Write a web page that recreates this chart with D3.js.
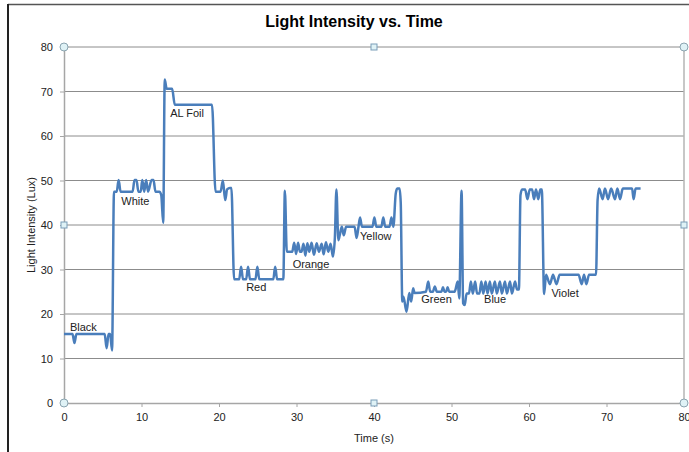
<!DOCTYPE html>
<html>
<head>
<meta charset="utf-8">
<script src="https://cdn.jsdelivr.net/npm/d3@7"></script>
<style>
  body { margin: 0; background: #fff; }
  text { font-family: "Liberation Sans", Arial, sans-serif; }
</style>
</head>
<body>
<div id="chart"></div>
<script>
// Sensor readings (time in s, light in lux)
const timeS = [
  0, 1.1, 1.35, 1.6, 5.25, 5.5, 5.75, 5.95, 6.2, 6.45,
  6.8, 7.05, 7.3, 8.85, 9.1, 9.35, 9.6, 9.9, 10.1, 10.35, 10.6, 10.85, 11.3, 11.55, 11.8, 12.3, 12.55, 12.8,
  13.0, 13.25, 13.95, 14.3, 19.1, 19.55, 20.2, 20.5, 20.8, 21.05, 21.4, 21.6, 21.95,
  22.6, 22.85, 23.1, 23.5, 23.75, 24.0, 24.7, 24.95, 25.2, 27.0, 27.25, 27.5, 28.3, 28.5, 28.75,
  29.45, 29.7, 29.95, 30.2, 30.45, 30.65, 30.9, 31.15, 31.4, 31.65, 31.95, 32.25, 32.6, 32.9, 33.25, 33.5,
  33.8, 34.1, 34.4, 34.7, 34.95, 35.15, 35.4,
  35.6, 35.85, 36.1, 36.4, 37.5, 37.75, 38.0, 38.2, 38.45, 39.8, 40.05, 40.3, 40.95, 41.2, 41.45, 42.0,
  42.25, 42.5, 42.8, 43.0, 43.3, 43.45, 43.65,
  43.8, 44.2, 44.55, 44.8, 45.05, 45.25, 46.7, 47.0, 47.25, 47.6, 47.85, 48.1, 48.7, 48.9, 49.1, 49.3,
  49.5, 49.7, 50.4, 50.8, 51.0, 51.3, 51.5, 51.7,
  51.95, 52.25, 52.5, 52.75, 53.05, 53.3, 53.6, 53.85, 54.1, 54.4, 54.65, 54.95, 55.2, 55.6, 55.85, 56.25,
  56.5, 56.9, 57.15, 57.55, 57.8, 58.2, 58.45, 58.7, 58.9, 59.1,
  59.5, 59.8, 60.1, 60.4, 60.65, 60.9, 61.2, 61.45, 61.65, 61.95,
  62.2, 62.7, 63.1, 63.55, 63.95, 66.4, 66.8, 67.1, 67.4, 67.75, 68.65, 68.85, 69.05, 69.5, 69.8, 70.2,
  70.6, 71.1, 71.4, 71.75, 72.1, 73.3, 73.5, 73.75, 74.4
];
const lux = [
  15.5, 15.5, 13.5, 15.5, 15.5, 12.3, 15.5, 15.5, 11.8, 47.5,
  47.5, 50.1, 47.5, 47.5, 50.1, 50.1, 47.5, 47.5, 50.1, 47.5, 50.1, 47.5, 50.1, 50.1, 47.5, 47.5, 46.7, 40.5,
  72.7, 70.6, 70.6, 67.0, 67.0, 47.5, 47.5, 50.0, 45.6, 48.0, 48.3, 48.3, 27.8,
  27.8, 30.6, 27.8, 27.8, 30.6, 27.8, 27.8, 30.6, 27.8, 27.8, 30.6, 27.8, 27.8, 47.7, 34.0,
  34.0, 36.0, 33.5, 36.0, 34.0, 34.0, 35.8, 33.1, 35.9, 34.0, 36.0, 33.3, 35.9, 34.0, 35.8, 33.4,
  36.1, 34.0, 35.8, 32.9, 37.1, 48.0, 36.6,
  37.9, 39.6, 37.7, 39.6, 39.6, 37.1, 39.6, 41.7, 39.6, 39.6, 41.7, 39.6, 39.6, 41.7, 39.6, 39.6,
  41.7, 39.6, 47.0, 48.2, 48.2, 45.0, 22.8,
  23.9, 20.5, 24.7, 22.8, 25.8, 24.7, 25.0, 27.3, 25.0, 25.0, 26.2, 25.0, 25.0, 26.0, 25.0, 25.0,
  26.0, 25.0, 25.0, 27.3, 23.5, 47.7, 22.4, 22.0,
  24.6, 24.6, 27.3, 24.6, 27.3, 24.6, 24.6, 27.3, 24.6, 27.3, 24.6, 27.3, 24.6, 27.3, 24.6, 27.3,
  24.6, 27.3, 24.6, 27.3, 24.6, 27.3, 25.5, 25.5, 46.7, 48.0,
  48.0, 45.8, 48.0, 48.0, 45.8, 48.0, 45.8, 48.0, 48.0, 24.5,
  28.8, 26.7, 28.8, 26.7, 28.8, 28.8, 26.7, 28.8, 26.7, 28.8, 28.8, 45.6, 48.2, 45.8, 48.2, 45.8,
  48.2, 45.8, 48.2, 45.8, 48.2, 48.2, 45.8, 48.2, 48.2
];

// Filter labels, anchored in data units (left edge, baseline)
const labelNames = ['Black', 'White', 'AL Foil', 'Red', 'Orange', 'Yellow', 'Green', 'Blue', 'Violet'];
const labelTimes = [0.77, 7.4, 13.7, 23.5, 29.5, 38.2, 46.1, 54.2, 62.9];
const labelLux = [16.2, 44.5, 64.3, 25.2, 30.4, 36.6, 22.4, 22.4, 23.8];

const xTicks = [0, 10, 20, 30, 40, 50, 60, 70, 80];
const yTicks = [0, 10, 20, 30, 40, 50, 60, 70, 80];

const width = 689;
const height = 452;

const svg = d3.select('#chart')
  .append('svg')
  .attr('width', width)
  .attr('height', height);

// Chart area frame (only top and left edges visible in the crop)
svg.append('line').attr('x1', 8).attr('x2', width).attr('y1', 4.5).attr('y2', 4.5)
  .attr('stroke', '#555').attr('stroke-width', 1.5);
svg.append('line').attr('x1', 8).attr('x2', 8).attr('y1', 4).attr('y2', height)
  .attr('stroke', '#222').attr('stroke-width', 2);

const x = d3.scaleLinear().domain([0, 80]).range([64, 684]);
const y = d3.scaleLinear().domain([0, 80]).range([403, 47]);

// Title
svg.append('text')
  .attr('x', 354)
  .attr('y', 27)
  .attr('text-anchor', 'middle')
  .attr('font-size', 16)
  .attr('font-weight', 'bold')
  .attr('fill', '#000')
  .text('Light Intensity vs. Time');

// Gridlines
svg.append('g')
  .selectAll('line')
  .data(yTicks.slice(1))
  .enter()
  .append('line')
  .attr('x1', x(0))
  .attr('x2', x(80))
  .attr('y1', d => y(d))
  .attr('y2', d => y(d))
  .attr('stroke', '#8c8c8c')
  .attr('stroke-width', 1);

// Right border of plot
svg.append('line')
  .attr('x1', x(80)).attr('x2', x(80))
  .attr('y1', y(0)).attr('y2', y(80))
  .attr('stroke', '#b5b5b5').attr('stroke-width', 1.5);

// Axes
const xAxis = svg.append('g')
  .attr('transform', `translate(0,${y(0)})`)
  .call(d3.axisBottom(x).tickValues(xTicks).tickSize(4).tickSizeOuter(0).tickPadding(6));
const yAxis = svg.append('g')
  .attr('transform', `translate(${x(0)},0)`)
  .call(d3.axisLeft(y).tickValues(yTicks).tickSize(4).tickSizeOuter(0).tickPadding(7));

[xAxis, yAxis].forEach(g => {
  g.select('.domain').attr('stroke', '#a6a6a6').attr('stroke-width', 1.5);
  g.selectAll('.tick line').attr('stroke', '#a6a6a6');
  g.selectAll('.tick text')
    .attr('font-size', 11)
    .attr('font-family', '"Liberation Sans", Arial, sans-serif')
    .attr('fill', '#222');
});

// Axis titles
svg.append('text')
  .attr('x', 374)
  .attr('y', 442)
  .attr('text-anchor', 'middle')
  .attr('font-size', 11)
  .attr('fill', '#222')
  .text('Time (s)');

svg.append('text')
  .attr('transform', `translate(35,${(y(0) + y(80)) / 2}) rotate(-90)`)
  .attr('text-anchor', 'middle')
  .attr('font-size', 11)
  .attr('fill', '#222')
  .text('Light Intensity (Lux)');

// Data line
const points = timeS.map((t, i) => [t, lux[i]]);
const line = d3.line()
  .x(d => x(d[0]))
  .y(d => y(d[1]))
  .curve(d3.curveMonotoneX);

svg.append('path')
  .datum(points)
  .attr('fill', 'none')
  .attr('stroke', '#4a7ebb')
  .attr('stroke-width', 2.5)
  .attr('stroke-linejoin', 'round')
  .attr('d', line);

// Data labels
svg.append('g')
  .selectAll('text')
  .data(labelNames)
  .enter()
  .append('text')
  .attr('x', (d, i) => x(labelTimes[i]))
  .attr('y', (d, i) => y(labelLux[i]))
  .attr('font-size', 11)
  .attr('fill', '#222')
  .text(d => d);

// Selection handles of the plot area
const corners = [[0, 0], [80, 0], [0, 80], [80, 80]];
const mids = [[40, 0], [40, 80], [0, 40], [80, 40]];

svg.append('g')
  .selectAll('circle')
  .data(corners)
  .enter()
  .append('circle')
  .attr('cx', d => x(d[0]))
  .attr('cy', d => y(d[1]))
  .attr('r', 4)
  .attr('fill', '#dff2f6')
  .attr('stroke', '#8aa4b0')
  .attr('stroke-width', 1);

svg.append('g')
  .selectAll('rect')
  .data(mids)
  .enter()
  .append('rect')
  .attr('x', d => x(d[0]) - 3)
  .attr('y', d => y(d[1]) - 3)
  .attr('width', 6)
  .attr('height', 6)
  .attr('fill', '#dff2f6')
  .attr('stroke', '#7a9db8')
  .attr('stroke-width', 1);
</script>
</body>
</html>
